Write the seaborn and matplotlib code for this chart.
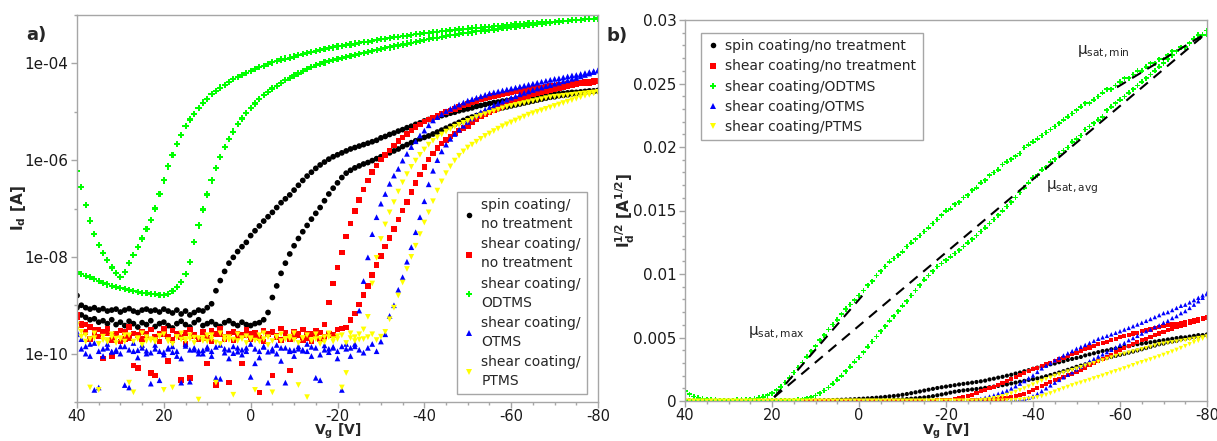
import numpy as np
import pandas as pd
import matplotlib
matplotlib.use("Agg")
import matplotlib.pyplot as plt
import seaborn as sns
from matplotlib.lines import Line2D
from matplotlib.ticker import FixedLocator, MultipleLocator

# ---------------- data ----------------
VG = np.arange(40, -81, -1)  # gate voltage sweep (V), 1 V steps: 40 ... -80

SAMPLES = ["spin coating/no treatment", "shear coating/no treatment",
           "shear coating/ODTMS", "shear coating/OTMS", "shear coating/PTMS"]
LEGEND_A = ["spin coating/\nno treatment", "shear coating/\nno treatment",
            "shear coating/\nODTMS", "shear coating/\nOTMS", "shear coating/\nPTMS"]
COLORS = ["#000000", "#ff0000", "#00ff00", "#0000ff", "#ffff00"]
MARKERS = ["o", "s", "P", "^", "v"]

# log10(Id [A]) per branch, indexed like VG (40 -> -80)
BLACK_FWD = [-9.05,-9.20,-9.25,-9.30,-9.28,-9.35,-9.32,-9.38,-9.30,-9.40,
             -9.35,-9.42,-9.33,-9.38,-9.45,-9.36,-9.40,-9.32,-9.44,-9.38,
             -9.35,-9.42,-9.47,-9.38,-9.33,-9.40,-9.45,-9.36,-9.30,-9.42,
             -9.38,-9.34,-9.40,-9.44,-9.36,-9.32,-9.38,-9.42,-9.35,-9.40,
             -9.42,-9.38,-9.36,-9.30,-9.15,-8.84,-8.60,-8.34,-8.13,-7.94,
             -7.77,-7.62,-7.48,-7.35,-7.22,-7.10,-6.98,-6.84,-6.70,-6.58,
             -6.47,-6.36,-6.27,-6.21,-6.16,-6.12,-6.08,-6.05,-6.01,-5.97,
             -5.93,-5.89,-5.85,-5.81,-5.77,-5.72,-5.68,-5.64,-5.60,-5.56,
             -5.53,-5.50,-5.46,-5.42,-5.38,-5.34,-5.30,-5.26,-5.22,-5.18,
             -5.14,-5.11,-5.08,-5.05,-5.02,-4.99,-4.96,-4.94,-4.92,-4.90,
             -4.88,-4.86,-4.84,-4.82,-4.80,-4.78,-4.76,-4.74,-4.72,-4.70,
             -4.69,-4.67,-4.66,-4.65,-4.63,-4.62,-4.61,-4.60,-4.59,-4.58,
             -4.57]
BLACK_REV = [-8.80,-9.00,-9.05,-9.08,-9.05,-9.10,-9.07,-9.12,-9.10,-9.08,
             -9.14,-9.10,-9.07,-9.12,-9.15,-9.10,-9.08,-9.12,-9.10,-9.14,
             -9.08,-9.12,-9.16,-9.10,-9.18,-9.12,-9.20,-9.15,-9.10,-9.12,
             -9.05,-8.97,-8.70,-8.49,-8.30,-8.13,-8.01,-7.89,-7.79,-7.70,
             -7.56,-7.46,-7.36,-7.26,-7.17,-7.08,-6.98,-6.88,-6.80,-6.72,
             -6.62,-6.52,-6.42,-6.33,-6.25,-6.17,-6.10,-6.04,-5.98,-5.93,
             -5.89,-5.85,-5.81,-5.77,-5.74,-5.71,-5.68,-5.65,-5.62,-5.59,
             -5.54,-5.51,-5.47,-5.44,-5.40,-5.37,-5.33,-5.30,-5.26,-5.23,
             -5.19,-5.16,-5.13,-5.11,-5.08,-5.06,-5.03,-5.01,-4.98,-4.96,
             -4.94,-4.92,-4.89,-4.87,-4.85,-4.83,-4.81,-4.80,-4.78,-4.77,
             -4.75,-4.74,-4.73,-4.71,-4.70,-4.69,-4.68,-4.67,-4.66,-4.65,
             -4.64,-4.63,-4.62,-4.61,-4.60,-4.60,-4.59,-4.58,-4.57,-4.57,
             -4.56]
RED_FWD = [-9.25,-9.42,-9.55,-9.70,-9.50,-9.65,-10.10,-9.58,-9.72,-9.60,
           -9.75,-9.55,-9.68,-10.25,-9.62,-9.70,-9.58,-10.40,-9.66,-9.75,
           -9.60,-10.15,-9.72,-9.58,-9.66,-9.80,-10.50,-9.62,-9.70,-9.55,
           -9.68,-9.75,-10.65,-9.60,-9.70,-9.58,-9.72,-9.65,-10.20,-9.62,
           -9.70,-9.57,-9.68,-9.75,-9.60,-10.45,-9.66,-9.72,-9.58,-9.70,
           -9.65,-9.60,-9.72,-9.68,-9.75,-9.62,-9.70,-9.66,-9.58,-9.62,
           -9.50,-9.48,-9.46,-9.30,-9.17,-8.98,-8.79,-8.60,-8.37,-8.17,
           -7.98,-7.79,-7.61,-7.42,-7.23,-7.04,-6.87,-6.66,-6.47,-6.30,
           -6.14,-5.99,-5.86,-5.75,-5.66,-5.58,-5.51,-5.45,-5.39,-5.34,
           -5.29,-5.22,-5.16,-5.10,-5.05,-5.00,-4.96,-4.92,-4.88,-4.83,
           -4.79,-4.76,-4.73,-4.70,-4.67,-4.64,-4.62,-4.59,-4.57,-4.55,
           -4.53,-4.51,-4.49,-4.47,-4.46,-4.44,-4.42,-4.41,-4.40,-4.38,
           -4.37]
RED_REV = [-9.20,-9.38,-9.40,-9.45,-9.62,-9.50,-9.55,-9.48,-10.05,-9.60,
           -9.52,-9.70,-9.45,-9.58,-10.30,-9.55,-9.62,-9.50,-10.45,-9.58,
           -9.48,-9.65,-9.52,-9.60,-10.55,-9.57,-9.50,-9.63,-9.70,-9.55,
           -10.20,-9.52,-9.60,-9.48,-9.65,-10.60,-9.55,-9.58,-9.62,-9.50,
           -9.58,-9.66,-10.80,-9.52,-9.60,-9.55,-9.63,-9.48,-9.57,-10.35,
           -9.55,-9.62,-9.50,-9.58,-9.60,-9.52,-9.56,-9.40,-8.94,-8.55,
           -8.22,-7.91,-7.58,-7.31,-7.05,-6.83,-6.61,-6.42,-6.24,-6.11,
           -5.99,-5.89,-5.80,-5.70,-5.61,-5.53,-5.46,-5.39,-5.32,-5.26,
           -5.20,-5.16,-5.12,-5.08,-5.04,-5.00,-4.97,-4.94,-4.90,-4.87,
           -4.84,-4.81,-4.78,-4.75,-4.73,-4.70,-4.68,-4.66,-4.64,-4.62,
           -4.60,-4.58,-4.57,-4.55,-4.54,-4.52,-4.51,-4.50,-4.48,-4.47,
           -4.46,-4.45,-4.44,-4.43,-4.42,-4.41,-4.40,-4.39,-4.38,-4.37,
           -4.36]
GREEN_FWD = [-8.32,-8.36,-8.39,-8.42,-8.46,-8.50,-8.54,-8.57,-8.60,-8.63,
             -8.65,-8.67,-8.69,-8.71,-8.72,-8.74,-8.75,-8.76,-8.77,-8.78,
             -8.79,-8.76,-8.71,-8.63,-8.52,-8.36,-8.10,-7.70,-7.35,-7.02,
             -6.71,-6.42,-6.17,-5.94,-5.73,-5.56,-5.41,-5.26,-5.14,-5.02,
             -4.93,-4.83,-4.74,-4.66,-4.59,-4.52,-4.46,-4.40,-4.35,-4.30,
             -4.25,-4.21,-4.16,-4.12,-4.08,-4.04,-4.01,-3.98,-3.95,-3.93,
             -3.91,-3.89,-3.87,-3.85,-3.83,-3.81,-3.79,-3.77,-3.75,-3.73,
             -3.71,-3.69,-3.67,-3.65,-3.63,-3.61,-3.59,-3.57,-3.55,-3.53,
             -3.51,-3.50,-3.48,-3.47,-3.45,-3.44,-3.42,-3.41,-3.40,-3.38,
             -3.37,-3.36,-3.34,-3.33,-3.32,-3.31,-3.30,-3.28,-3.27,-3.26,
             -3.25,-3.24,-3.23,-3.22,-3.21,-3.20,-3.19,-3.18,-3.17,-3.16,
             -3.15,-3.14,-3.13,-3.12,-3.11,-3.11,-3.10,-3.09,-3.08,-3.08,
             -3.07]
GREEN_REV = [-6.22,-6.55,-6.92,-7.25,-7.53,-7.75,-7.92,-8.07,-8.22,-8.33,
             -8.41,-8.32,-8.13,-7.96,-7.79,-7.62,-7.42,-7.23,-7.00,-6.70,
             -6.42,-6.13,-5.90,-5.67,-5.48,-5.30,-5.16,-5.04,-4.92,-4.81,
             -4.73,-4.64,-4.57,-4.50,-4.44,-4.39,-4.33,-4.28,-4.24,-4.20,
             -4.16,-4.12,-4.08,-4.05,-4.01,-3.98,-3.95,-3.92,-3.90,-3.88,
             -3.86,-3.83,-3.81,-3.79,-3.77,-3.75,-3.73,-3.71,-3.69,-3.67,
             -3.65,-3.64,-3.62,-3.61,-3.59,-3.58,-3.56,-3.55,-3.53,-3.52,
             -3.50,-3.49,-3.48,-3.46,-3.45,-3.44,-3.43,-3.42,-3.40,-3.39,
             -3.38,-3.37,-3.36,-3.35,-3.34,-3.33,-3.32,-3.31,-3.30,-3.29,
             -3.28,-3.27,-3.26,-3.26,-3.25,-3.24,-3.23,-3.22,-3.22,-3.21,
             -3.20,-3.19,-3.19,-3.18,-3.17,-3.17,-3.16,-3.15,-3.15,-3.14,
             -3.14,-3.13,-3.12,-3.12,-3.11,-3.11,-3.10,-3.09,-3.09,-3.08,
             -3.08]
BLUE_FWD = [-9.60,-9.90,-10.00,-9.80,-10.75,-9.95,-10.05,-9.88,-9.96,-9.92,
            -10.00,-9.85,-10.70,-9.95,-10.08,-9.82,-9.94,-9.98,-9.90,-10.55,
            -10.02,-9.88,-9.97,-9.95,-10.10,-9.84,-10.58,-9.92,-10.00,-9.93,
            -9.90,-10.05,-9.86,-10.52,-9.98,-9.92,-9.99,-9.88,-10.02,-9.95,
            -10.48,-9.90,-10.08,-9.86,-9.96,-9.94,-10.00,-9.88,-10.60,-9.92,
            -10.05,-9.90,-9.94,-9.95,-9.86,-10.50,-10.02,-9.92,-9.97,-9.88,
            -9.95,-10.75,-9.90,-10.05,-9.85,-9.92,-9.98,-9.88,-9.80,-9.95,
            -9.75,-9.60,-9.22,-9.00,-8.68,-8.42,-8.10,-7.80,-7.49,-7.18,
            -6.85,-6.50,-6.22,-6.00,-5.82,-5.68,-5.56,-5.46,-5.37,-5.29,
            -5.21,-5.14,-5.07,-5.01,-4.96,-4.91,-4.87,-4.83,-4.79,-4.75,
            -4.71,-4.68,-4.64,-4.61,-4.58,-4.55,-4.52,-4.50,-4.47,-4.45,
            -4.42,-4.40,-4.37,-4.35,-4.32,-4.30,-4.27,-4.24,-4.21,-4.18,
            -4.15]
BLUE_REV = [-9.55,-9.70,-9.85,-10.05,-9.78,-10.70,-9.90,-9.80,-9.96,-9.95,
            -9.85,-10.65,-9.92,-9.78,-9.93,-9.88,-10.00,-10.62,-9.82,-9.95,
            -9.97,-9.90,-9.85,-10.05,-10.60,-9.80,-9.92,-9.88,-9.94,-10.00,
            -9.86,-9.95,-10.50,-9.82,-9.90,-10.10,-9.85,-9.96,-9.92,-9.88,
            -9.80,-10.20,-9.95,-9.85,-10.60,-9.90,-9.82,-10.15,-9.88,-9.95,
            -9.93,-9.85,-9.92,-9.80,-10.05,-9.88,-10.55,-9.83,-9.90,-9.86,
            -10.10,-9.85,-9.80,-9.88,-9.80,-9.11,-8.50,-8.01,-7.53,-7.18,
            -6.90,-6.70,-6.49,-6.32,-6.18,-6.01,-5.87,-5.73,-5.61,-5.49,
            -5.39,-5.28,-5.18,-5.11,-5.05,-4.99,-4.94,-4.89,-4.85,-4.81,
            -4.77,-4.74,-4.71,-4.68,-4.65,-4.62,-4.60,-4.58,-4.56,-4.54,
            -4.52,-4.50,-4.48,-4.46,-4.44,-4.42,-4.40,-4.38,-4.36,-4.34,
            -4.32,-4.31,-4.29,-4.27,-4.25,-4.24,-4.22,-4.20,-4.18,-4.16,
            -4.14]
YELLOW_FWD = [-9.50,-9.65,-9.75,-10.70,-9.68,-9.80,-9.72,-9.76,-9.66,-9.78,
              -9.70,-9.62,-10.60,-9.75,-9.68,-9.82,-9.74,-9.70,-9.76,-9.64,
              -10.75,-9.72,-9.80,-9.66,-9.71,-9.74,-9.70,-9.78,-10.95,-9.68,
              -9.75,-9.62,-9.77,-9.80,-9.72,-9.66,-10.85,-9.74,-9.70,-9.78,
              -9.68,-9.73,-9.75,-9.70,-9.82,-10.80,-9.66,-9.74,-9.70,-9.69,
              -9.72,-9.78,-9.68,-10.90,-9.74,-9.70,-9.80,-9.76,-9.66,-9.75,
              -9.70,-10.70,-9.78,-9.68,-9.74,-9.71,-9.70,-9.66,-9.60,-9.72,
              -9.65,-9.55,-9.29,-9.05,-8.80,-8.53,-8.25,-8.00,-7.77,-7.53,
              -7.29,-7.08,-6.85,-6.63,-6.44,-6.27,-6.13,-6.01,-5.91,-5.82,
              -5.74,-5.68,-5.62,-5.56,-5.50,-5.45,-5.40,-5.35,-5.30,-5.26,
              -5.22,-5.18,-5.14,-5.10,-5.06,-5.03,-5.00,-4.97,-4.94,-4.91,
              -4.88,-4.85,-4.82,-4.79,-4.76,-4.73,-4.70,-4.67,-4.65,-4.62,
              -4.59]
YELLOW_REV = [-9.40,-9.55,-9.62,-9.70,-9.58,-10.75,-9.65,-9.72,-9.60,-9.69,
              -9.68,-9.75,-9.62,-10.80,-9.70,-9.58,-9.66,-9.73,-9.72,-9.64,
              -9.60,-9.75,-10.70,-9.66,-9.58,-9.70,-9.62,-9.67,-9.68,-9.74,
              -9.62,-9.70,-10.60,-9.58,-9.66,-9.72,-9.71,-9.60,-9.68,-9.64,
              -9.70,-10.75,-9.62,-9.58,-9.66,-9.74,-9.65,-9.60,-9.70,-9.65,
              -9.58,-10.65,-9.68,-9.62,-9.72,-9.60,-9.69,-9.66,-9.58,-9.70,
              -9.64,-9.62,-10.40,-9.58,-9.66,-9.60,-9.50,-9.24,-8.55,-8.02,
              -7.63,-7.33,-7.08,-6.87,-6.65,-6.46,-6.29,-6.14,-6.01,-5.89,
              -5.78,-5.68,-5.60,-5.53,-5.47,-5.41,-5.36,-5.31,-5.27,-5.23,
              -5.19,-5.15,-5.11,-5.08,-5.05,-5.02,-4.99,-4.96,-4.93,-4.90,
              -4.88,-4.86,-4.84,-4.82,-4.80,-4.78,-4.76,-4.74,-4.72,-4.70,
              -4.69,-4.68,-4.67,-4.66,-4.65,-4.64,-4.63,-4.62,-4.61,-4.60,
              -4.59]

# fitted saturation-regime lines in panel b (Vg [V], sqrt(Id) [A^1/2])
FIT_MAX_V, FIT_MAX_Y = [19.5, -1.8], [0.0003, 0.0087]
FIT_AVG_V, FIT_AVG_Y = [19.5, -80.0], [0.0003, 0.0290]
FIT_MIN_V, FIT_MIN_Y = [-59.3, -80.0], [0.0247, 0.0290]

YTICKS_A = [1e-10, 1e-8, 1e-6, 1e-4]
YTICKLABELS_A = ["1e-10", "1e-08", "1e-06", "1e-04"]
YTICKS_B = [0, 0.005, 0.01, 0.015, 0.02, 0.025, 0.03]
YTICKLABELS_B = ["0", "0.005", "0.01", "0.015", "0.02", "0.025", "0.03"]
XTICKS = [40, 20, 0, -20, -40, -60, -80]

# ---------------- build frame ----------------
branches = {
    SAMPLES[0]: (BLACK_FWD, BLACK_REV),
    SAMPLES[1]: (RED_FWD, RED_REV),
    SAMPLES[2]: (GREEN_FWD, GREEN_REV),
    SAMPLES[3]: (BLUE_FWD, BLUE_REV),
    SAMPLES[4]: (YELLOW_FWD, YELLOW_REV),
}
rows = []
for name, (fwd, rev) in branches.items():
    for tag, arr in (("fwd", fwd), ("rev", rev)):
        if len(arr) != len(VG):
            raise ValueError(f"{name} {tag}: {len(arr)} values")
        for v, lg in zip(VG, arr):
            rows.append((name, tag, float(v), 10.0 ** lg))
df = pd.DataFrame(rows, columns=["sample", "sweep", "Vg", "Id"])
df["sqrtId"] = np.sqrt(df["Id"])

# ---------------- style ----------------
sns.set_style("ticks")
plt.rcParams["font.family"] = ["DejaVu Sans"]
plt.rcParams["axes.unicode_minus"] = False
plt.rcParams["mathtext.default"] = "regular"

GRAY = "#a6a6a6"
palette = dict(zip(SAMPLES, COLORS))
markers = dict(zip(SAMPLES, MARKERS))

fig = plt.figure(figsize=(12.17, 4.41), dpi=100)
axA = fig.add_axes([77 / 1217, 1 - 402 / 441, 521 / 1217, 387 / 441])
axB = fig.add_axes([685 / 1217, 1 - 401 / 441, 522 / 1217, 381 / 441])

sizes_a = dict(zip(SAMPLES, [17, 16, 20, 17, 17]))
sizes_b = dict(zip(SAMPLES, [9, 9, 13, 10, 10]))

sns.scatterplot(data=df, x="Vg", y="Id", hue="sample", style="sample",
                size="sample", sizes=sizes_a, palette=palette, markers=markers,
                linewidth=0, legend=False, ax=axA)
sns.scatterplot(data=df, x="Vg", y="sqrtId", hue="sample", style="sample",
                size="sample", sizes=sizes_b, palette=palette, markers=markers,
                linewidth=0, legend=False, ax=axB)

for xs, ys in ((FIT_MAX_V, FIT_MAX_Y), (FIT_AVG_V, FIT_AVG_Y), (FIT_MIN_V, FIT_MIN_Y)):
    axB.plot(xs, ys, color="black", lw=1.5, ls=(0, (5, 3.5)), zorder=5)

# ---- axes formatting ----
for ax in (axA, axB):
    ax.set_xlim(40, -80)
    ax.set_xticks(XTICKS)
    ax.set_xticklabels([str(t) for t in XTICKS])
    ax.xaxis.set_minor_locator(MultipleLocator(5))
    for s in ax.spines.values():
        s.set_color(GRAY)
        s.set_linewidth(1.0)
        s.set_visible(True)
    ax.tick_params(which="major", direction="out", length=4, width=1,
                   color=GRAY, labelsize=11, labelcolor="#1a1a1a", pad=2)
    ax.tick_params(axis="x", which="major", pad=1.0, labelsize=10.5)
    ax.tick_params(which="minor", direction="out", length=2.5, width=1, color=GRAY)
    ax.set_xlabel(r"$\mathbf{V_g}$ [V]", fontsize=10, fontweight="bold")

axA.set_yscale("log")
axA.set_ylim(1e-11, 1e-3)
axA.set_yticks(YTICKS_A)
axA.set_yticklabels(YTICKLABELS_A)
axA.yaxis.set_minor_locator(FixedLocator([1e-11, 1e-9, 1e-7, 1e-5, 1e-3]))
axA.yaxis.set_minor_formatter(plt.NullFormatter())
axA.set_ylabel(r"$\mathbf{I_d}$ [A]", fontsize=11, fontweight="bold")
axA.yaxis.set_label_coords(-0.094, 0.5)
axA.xaxis.set_label_coords(0.5, -0.052)

axB.set_ylim(0, 0.03)
axB.set_yticks(YTICKS_B)
axB.set_yticklabels(YTICKLABELS_B)
axB.yaxis.set_minor_locator(MultipleLocator(0.001))
axB.set_ylabel(r"$\mathbf{I_d^{1/2}}$ [A$\mathbf{^{1/2}}$]", fontsize=11, fontweight="bold")
axB.yaxis.set_label_coords(-0.092, 0.5)
axB.xaxis.set_label_coords(0.5, -0.055)

# ---- legends ----
def handles(labels, ms):
    return [Line2D([], [], ls="none", marker=m, color=c, markersize=ms,
                   markeredgewidth=0, label=l)
            for m, c, l in zip(MARKERS, COLORS, labels)]

legA = axA.legend(handles=handles(LEGEND_A, 4), loc="lower right",
                  bbox_to_anchor=(0.979, 0.02), fontsize=10, frameon=True,
                  fancybox=False, edgecolor=GRAY, framealpha=1,
                  handlelength=0.8, handletextpad=0.5, labelspacing=0.45,
                  borderpad=0.45, borderaxespad=0)
for t in legA.get_texts():
    t.set_linespacing(1.45)
legA.get_frame().set_linewidth(1.0)

legB = axB.legend(handles=handles(SAMPLES, 4), loc="upper left",
                  bbox_to_anchor=(0.031, 0.966), fontsize=10, frameon=True,
                  fancybox=False, edgecolor=GRAY, framealpha=1,
                  handlelength=0.8, handletextpad=0.5, labelspacing=0.45,
                  borderpad=0.45, borderaxespad=0)
legB.get_frame().set_linewidth(1.0)

# ---- annotations ----
axB.text(25.5, 0.00535, "μ$_{sat,max}$", fontsize=11, ha="left", va="center")
axB.text(-50.1, 0.0275, "μ$_{sat,min}$", fontsize=11, ha="left", va="center")
axB.text(-43.0, 0.01685, "μ$_{sat,avg}$", fontsize=11, ha="left", va="center")

fig.text(36 / 1217, 1 - 35 / 441, "a)", fontsize=13, fontweight="bold",
         ha="center", va="center")
fig.text(617 / 1217, 1 - 36 / 441, "b)", fontsize=13, fontweight="bold",
         ha="center", va="center")

fig.savefig("out.png", dpi=100)
